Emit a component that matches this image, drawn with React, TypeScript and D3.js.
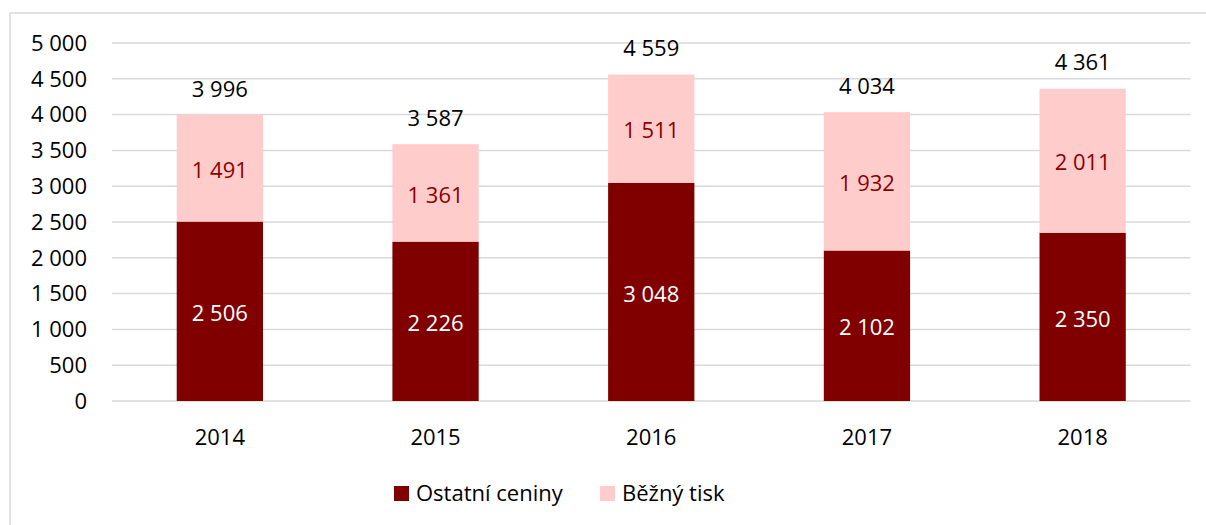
import React from "react";
import * as d3 from "d3";

const years = ["2014", "2015", "2016", "2017", "2018"];
const ostatni = [2506, 2226, 3048, 2102, 2350];
const bezny = [1491, 1361, 1511, 1932, 2011];
const totals = [3996, 3587, 4559, 4034, 4361];
const yTicks = [0, 500, 1000, 1500, 2000, 2500, 3000, 3500, 4000, 4500, 5000];

const DARK = "#800000";
const PINK = "#FFCCCC";
const FONT = "'Open Sans', Lato, sans-serif";
const FS = 22;

const fmt = (v: number) => d3.format(",")(v).replace(/,/g, " ");

export default function App() {
  const W = 1206, H = 525;
  const x = d3.scaleBand<string>().domain(years).range([112, 1190.5]).paddingInner(0.6).paddingOuter(0.3);
  const y = d3.scaleLinear().domain([0, 5000]).range([401, 43]);
  const bw = x.bandwidth();
  return (
    <svg width={W} height={H} style={{ position: "absolute", left: 0, top: 0 }} fontFamily={FONT}>
      <rect x={0} y={0} width={W} height={H} fill="#fff" />
      <rect x={10} y={13} width={W + 20} height={H + 20} fill="none" stroke="#d9d9d9" strokeWidth={1.5} />
      {yTicks.map((t) => (
        <g key={t}>
          <line x1={112} x2={1190.5} y1={y(t)} y2={y(t)} stroke="#d9d9d9" strokeWidth={1.5} />
          <text x={87} y={y(t)} dy="0.35em" textAnchor="end" fontSize={FS} fill="#000">{fmt(t)}</text>
        </g>
      ))}
      {years.map((yr, i) => {
        const x0 = x(yr)!;
        const cx = x0 + bw / 2;
        const a = ostatni[i], b = bezny[i];
        return (
          <g key={yr}>
            <rect x={x0} y={y(a)} width={bw} height={y(0) - y(a)} fill={DARK} />
            <rect x={x0} y={y(a + b)} width={bw} height={y(a) - y(a + b)} fill={PINK} />
            <text x={cx} y={(y(0) + y(a)) / 2 + 2} dy="0.35em" textAnchor="middle" fontSize={FS} fill="#fff">{fmt(a)}</text>
            <text x={cx} y={(y(a) + y(a + b)) / 2 + 2} dy="0.35em" textAnchor="middle" fontSize={FS} fill="#8B0000">{fmt(b)}</text>
            <text x={cx} y={y(totals[i]) - 26} dy="0.35em" textAnchor="middle" fontSize={FS} fill="#000">{fmt(totals[i])}</text>
            <text x={cx} y={437} dy="0.35em" textAnchor="middle" fontSize={FS} fill="#000">{yr}</text>
          </g>
        );
      })}
      <rect x={394} y={486} width={15} height={15} fill={DARK} />
      <text x={416} y={493.5} dy="0.35em" fontSize={FS} fill="#000">Ostatní ceniny</text>
      <rect x={600} y={486} width={15} height={15} fill={PINK} />
      <text x={622} y={493.5} dy="0.35em" fontSize={FS} fill="#000">Běžný tisk</text>
    </svg>
  );
}
